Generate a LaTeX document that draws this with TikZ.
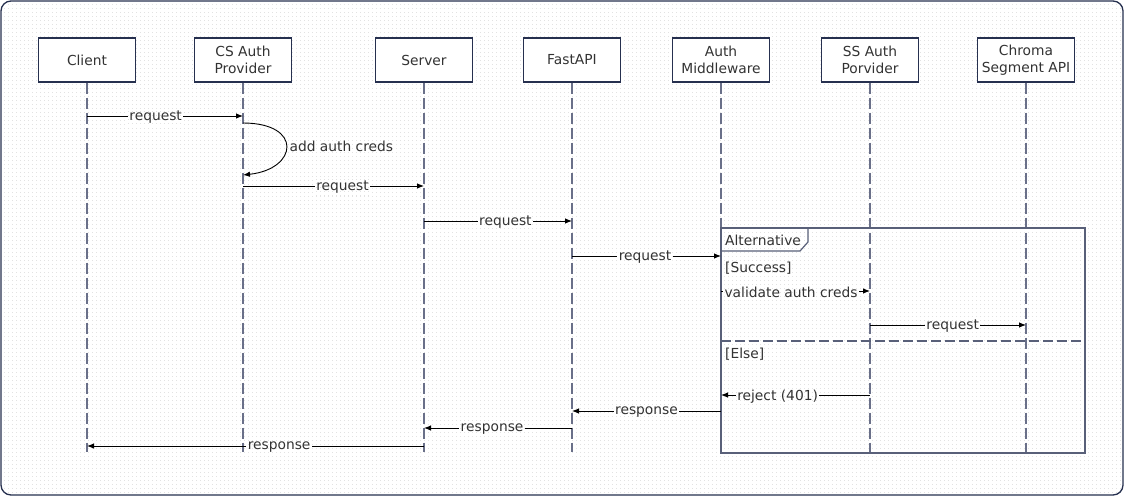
\documentclass[tikz,border=0pt]{standalone}
\usepackage{fontspec}
\setmainfont{DejaVu Sans}
\usetikzlibrary{arrows.meta,patterns.meta}

\definecolor{navy}{HTML}{26304F}
\definecolor{lifegray}{HTML}{6A7089}
\definecolor{framegray}{HTML}{596079}
\definecolor{txtgray}{HTML}{333333}
\definecolor{dotgray}{HTML}{E2E2E2}

\tikzdeclarepattern{
  name=griddots, type=uncolored,
  bounding box={(0pt,0pt) and (4pt,4pt)},
  tile size={(4pt,4pt)},
  code={\fill (0pt,0pt) rectangle (1pt,1pt);}}

\tikzset{
  party/.style={draw=navy, line width=1.2pt, fill=white, text=txtgray,
    minimum width=97pt, minimum height=44pt, align=center, inner sep=1pt},
  lifeline/.style={draw=lifegray, line width=1.2pt, dash pattern=on 11pt off 4pt},
  msg/.style={draw=black, line width=0.9pt, -{Latex[length=7pt,width=5.5pt]}},
  msglabel/.style={fill=white, text=txtgray, inner sep=1.5pt, yshift=-1.5pt,
    postaction={pattern=griddots, pattern color=dotgray}},
  framebox/.style={draw=framegray, line width=1.2pt},
  guard/.style={anchor=west, text=txtgray, inner sep=0pt}
}

\begin{document}
\begin{tikzpicture}[x=1pt, y=-1pt, font=\fontsize{13.8}{17}\selectfont]%
\useasboundingbox (0,0) rectangle (1124,496);%
% sheet
\path [
  draw=navy, line width=1.3pt, rounded corners=10pt,
  preaction={fill=white}, pattern=griddots, pattern color=dotgray]
  (1,1) rectangle (1123,495);%

% participants
\node [party] (client) at (87,60) {Client};%
\node [party] (csauth) at (243,60) {CS Auth\\Provider};%
\node [party] (server) at (424,60) {Server};%
\node [party] (fastapi) at (572,60) {FastAPI};%
\node [party] (authmw) at (721,60) {Auth\\Middleware};%
\node [party] (ssauth) at (870,60) {SS Auth\\Porvider};%
\node [party] (chroma) at (1026,60) {Chroma\\Segment API};%

% lifelines
\coordinate (bottom) at (0,452);%
\draw [lifeline] (client.south) -- (client.south |- bottom);%
\draw [lifeline] (csauth.south) -- (csauth.south |- bottom);%
\draw [lifeline] (server.south) -- (server.south |- bottom);%
\draw [lifeline] (fastapi.south) -- (fastapi.south |- bottom);%
\draw [lifeline] (authmw.south) -- (authmw.south |- bottom);%
\draw [lifeline] (ssauth.south) -- (ssauth.south |- bottom);%
\draw [lifeline] (chroma.south) -- (chroma.south |- bottom);%

% alternative frame
\coordinate (altnw) at (721,228);%
\coordinate (altse) at (1085,453);%
\draw [framebox] (altnw) rectangle (altse);%
\draw [framebox] (altnw) -- ++(87,0) -- ++(0,14) -- ++(-8,9) -- ++(-79,0);%
\node [guard] (alttag) at (725,240) {Alternative};%
\node [guard] (success) at (725,268) {[Success]};%
\draw [framebox, dash pattern=on 10pt off 4pt] (altnw |- 0,341) -- (altse |- 0,341);%
\node [guard] (else) at (725,354) {[Else]};%

% messages
\coordinate (m1) at (0,116);%
\coordinate (m2a) at (0,123);%
\coordinate (m2b) at (0,175);%
\coordinate (m3) at (0,186);%
\coordinate (m4) at (0,221);%
\coordinate (m5) at (0,256);%
\coordinate (m6) at (0,291);%
\coordinate (m7) at (0,325);%
\coordinate (m8) at (0,395);%
\coordinate (m9) at (0,411);%
\coordinate (m10) at (0,428);%
\coordinate (m11) at (0,446);%
\draw [msg] (client |- m1) -- node [msglabel, pos=0.44] {request} (csauth |- m1);%
\draw [msg] (csauth |- m2a) .. controls +(60,0) and +(55,-6) .. (csauth |- m2b)
  node [pos=0.5, anchor=west, text=txtgray, inner sep=3pt] (creds) {add auth creds};%
\draw [msg] (csauth |- m3) -- node [msglabel, pos=0.55] {request} (server |- m3);%
\draw [msg] (server |- m4) -- node [msglabel, pos=0.55] {request} (fastapi |- m4);%
\draw [msg] (fastapi |- m5) -- node [msglabel, pos=0.49] {request} (authmw |- m5);%
\draw [msg] (authmw |- m6) -- node [msglabel, pos=0.47] {validate auth creds} (ssauth |- m6);%
\draw [msg] (ssauth |- m7) -- node [msglabel, pos=0.53] {request} (chroma |- m7);%
\draw [msg] (ssauth |- m8) -- node [msglabel, pos=0.62] {reject (401)} (authmw |- m8);%
\draw [msg] (authmw |- m9) -- node [msglabel, pos=0.5] {response} (fastapi |- m9);%
\draw [msg] (fastapi |- m10) -- node [msglabel, pos=0.54] {response} (server |- m10);%
\draw [msg] (server |- m11) -- node [msglabel, pos=0.43] {response} (client |- m11);%
\end{tikzpicture}
\end{document}
